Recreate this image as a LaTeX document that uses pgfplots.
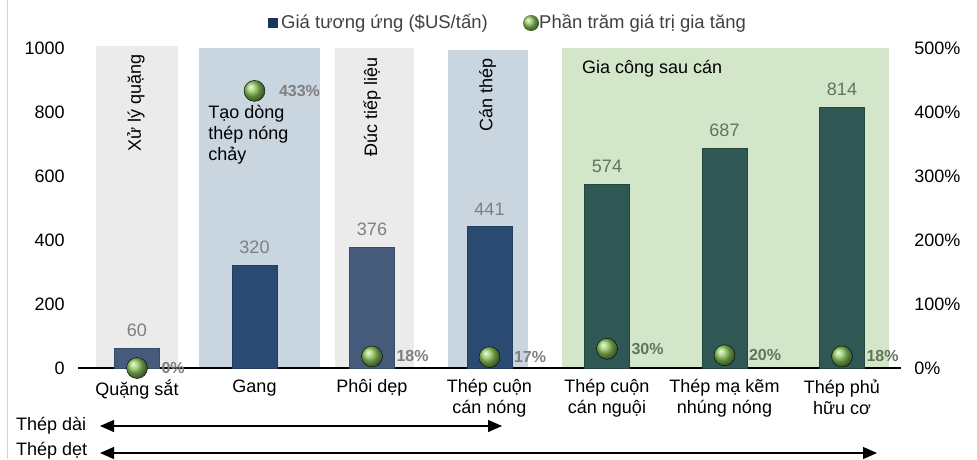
\documentclass[border=0pt]{standalone}
\usepackage{fontspec}
\setmainfont{Liberation Sans}
\usepackage{pgfplots}
\pgfplotsset{compat=1.18}
\usetikzlibrary{arrows.meta}

\definecolor{bandgray}{HTML}{EBEBEB}
\definecolor{bandblue}{HTML}{C9D5DF}
\definecolor{bandgreen}{HTML}{D4E6C9}
\definecolor{barblue}{HTML}{2B4A72}
\definecolor{barblueD}{HTML}{223D60}
\definecolor{bargrey}{HTML}{465B7C}
\definecolor{bargreyD}{HTML}{384B68}
\definecolor{bargreen}{HTML}{2F5854}
\definecolor{bargreenD}{HTML}{244540}
\definecolor{valgray}{HTML}{7F7F7F}
\definecolor{valgreen}{HTML}{5E775B}
\definecolor{sphere}{HTML}{8DC85A}
\definecolor{legnavy}{HTML}{17375E}
\definecolor{legtext}{HTML}{404040}
\definecolor{baseline}{HTML}{D9D9D9}
\definecolor{frame}{HTML}{CCD2EC}

\newcommand{\lbl}{\fontsize{18}{21}\selectfont}
\newcommand{\pct}{\bfseries\fontsize{16}{19}\selectfont}

\begin{document}
\begin{tikzpicture}[x=1pt,y=1pt]
\path[use as bounding box] (0,0) rectangle (977,459);
\draw[frame, line width=1pt] (7.5,0) -- (7.5,459);

\begin{axis}[
  at={(78.25pt,91pt)}, anchor=south west,
  scale only axis, width=822.5pt, height=320pt,
  xmin=-0.5, xmax=6.5, ymin=0, ymax=1000,
  clip=false,
  axis line style={draw=none},
  major tick length=0pt,
  xtick={0,...,6},
  xticklabels={Quặng sắt, Gang, Phôi dẹp, {Thép cuộn\\cán nóng},
    {Thép cuộn\\cán nguội}, {Thép mạ kẽm\\nhúng nóng}, {Thép phủ\\hữu cơ}},
  ytick={0,200,...,1000},
  /pgf/number format/assume math mode=true,
  /pgf/number format/1000 sep={},
  tick label style={font=\lbl},
  xticklabel style={align=center, yshift=-8pt},
  yticklabel style={xshift=-10pt},
]
% background bands for each stage
\fill[bandgray]  (axis cs:-0.349,0) rectangle (axis cs:0.349,1005);
\fill[bandblue]  (axis cs:0.528,0)  rectangle (axis cs:1.557,1000);
\fill[bandgray]  (axis cs:1.685,0)  rectangle (axis cs:2.36,1000);
\fill[bandblue]  (axis cs:2.647,0)  rectangle (axis cs:3.328,995);
\fill[bandgreen] (axis cs:3.617,0)  rectangle (axis cs:6.40,1000);
\draw[baseline, line width=1.5pt] (axis cs:-0.5,0) -- (axis cs:6.5,0);

\addplot[ybar, bar width=45pt, bar shift=0pt, draw=bargreyD, line width=1pt, fill=bargrey,
  nodes near coords,
  nodes near coords style={font=\lbl, text=valgray, anchor=south, yshift=8pt}]
  coordinates {(0,60) (2,376)};
\addplot[ybar, bar width=45pt, bar shift=0pt, draw=barblueD, line width=1pt, fill=barblue,
  nodes near coords,
  nodes near coords style={font=\lbl, text=valgray, anchor=south, yshift=8pt}]
  coordinates {(1,320) (3,441)};
\addplot[ybar, bar width=45pt, bar shift=0pt, draw=bargreenD, line width=1pt, fill=bargreen,
  nodes near coords,
  nodes near coords style={font=\lbl, text=valgreen, anchor=south, yshift=8pt}]
  coordinates {(4,574) (5,687) (6,814)};

% stage captions
\node[rotate=90, anchor=east, inner sep=0pt, font=\lbl] at (axis cs:-0.01,980) {Xử lý quặng};
\node[align=left, anchor=north west, inner sep=0pt, font=\lbl] at (axis cs:0.605,822) {Tạo dòng\\thép nóng\\chảy};
\node[rotate=90, anchor=east, inner sep=0pt, font=\lbl] at (axis cs:2.0,970) {Đúc tiếp liệu};
\node[rotate=90, anchor=east, inner sep=0pt, font=\lbl] at (axis cs:2.985,967) {Cán thép};
\node[anchor=west, inner sep=0pt, font=\lbl] at (axis cs:3.787,934) {Gia công sau cán};
\end{axis}

\begin{axis}[
  at={(78.25pt,91pt)}, anchor=south west,
  scale only axis, width=822.5pt, height=320pt,
  xmin=-0.5, xmax=6.5, ymin=0, ymax=500,
  clip=false,
  hide x axis,
  axis y line*=right,
  axis line style={draw=none},
  major tick length=0pt,
  ytick={0,100,...,500},
  yticklabels={0\%,100\%,200\%,300\%,400\%,500\%},
  /pgf/number format/assume math mode=true,
  tick label style={font=\lbl},
  yticklabel style={xshift=10pt},
]
\addplot[only marks, mark=ball, mark size=10.5pt, mark options={ball color=sphere},
  nodes near coords={\pgfmathprintnumber{\pgfplotspointmeta}\%},
  nodes near coords style={font=\pct, text=valgray, anchor=west, xshift=21pt}]
  coordinates {(0,0) (1,433) (2,18) (3,17)};
\addplot[only marks, mark=ball, mark size=10.5pt, mark options={ball color=sphere},
  nodes near coords={\pgfmathprintnumber{\pgfplotspointmeta}\%},
  nodes near coords style={font=\pct, text=valgreen, anchor=west, xshift=21pt}]
  coordinates {(4,30) (5,20) (6,18)};
\end{axis}

% legend
\fill[legnavy] (268,431) rectangle (278,441);
\node[anchor=west, inner sep=0pt, font=\fontsize{18.5}{21}\selectfont, text=legtext] at (281,436) {Giá tương ứng (\$US/tấn)};
\shade[ball color=sphere] (531,436) circle (8);
\node[anchor=west, inner sep=0pt, font=\fontsize{18.5}{21}\selectfont, text=legtext] at (539,436) {Phần trăm giá trị gia tăng};

% product ranges
\node[anchor=west, inner sep=0pt, font=\lbl] at (16,33) {Thép dài};
\draw[line width=1.2pt, {Triangle[length=14pt,width=12pt]}-{Triangle[length=14pt,width=12pt]}] (100,33) -- (502,33);
\node[anchor=west, inner sep=0pt, font=\lbl] at (16,8) {Thép dẹt};
\draw[line width=1.2pt, {Triangle[length=14pt,width=12pt]}-{Triangle[length=14pt,width=12pt]}] (100,6) -- (877,6);
\end{tikzpicture}
\end{document}
